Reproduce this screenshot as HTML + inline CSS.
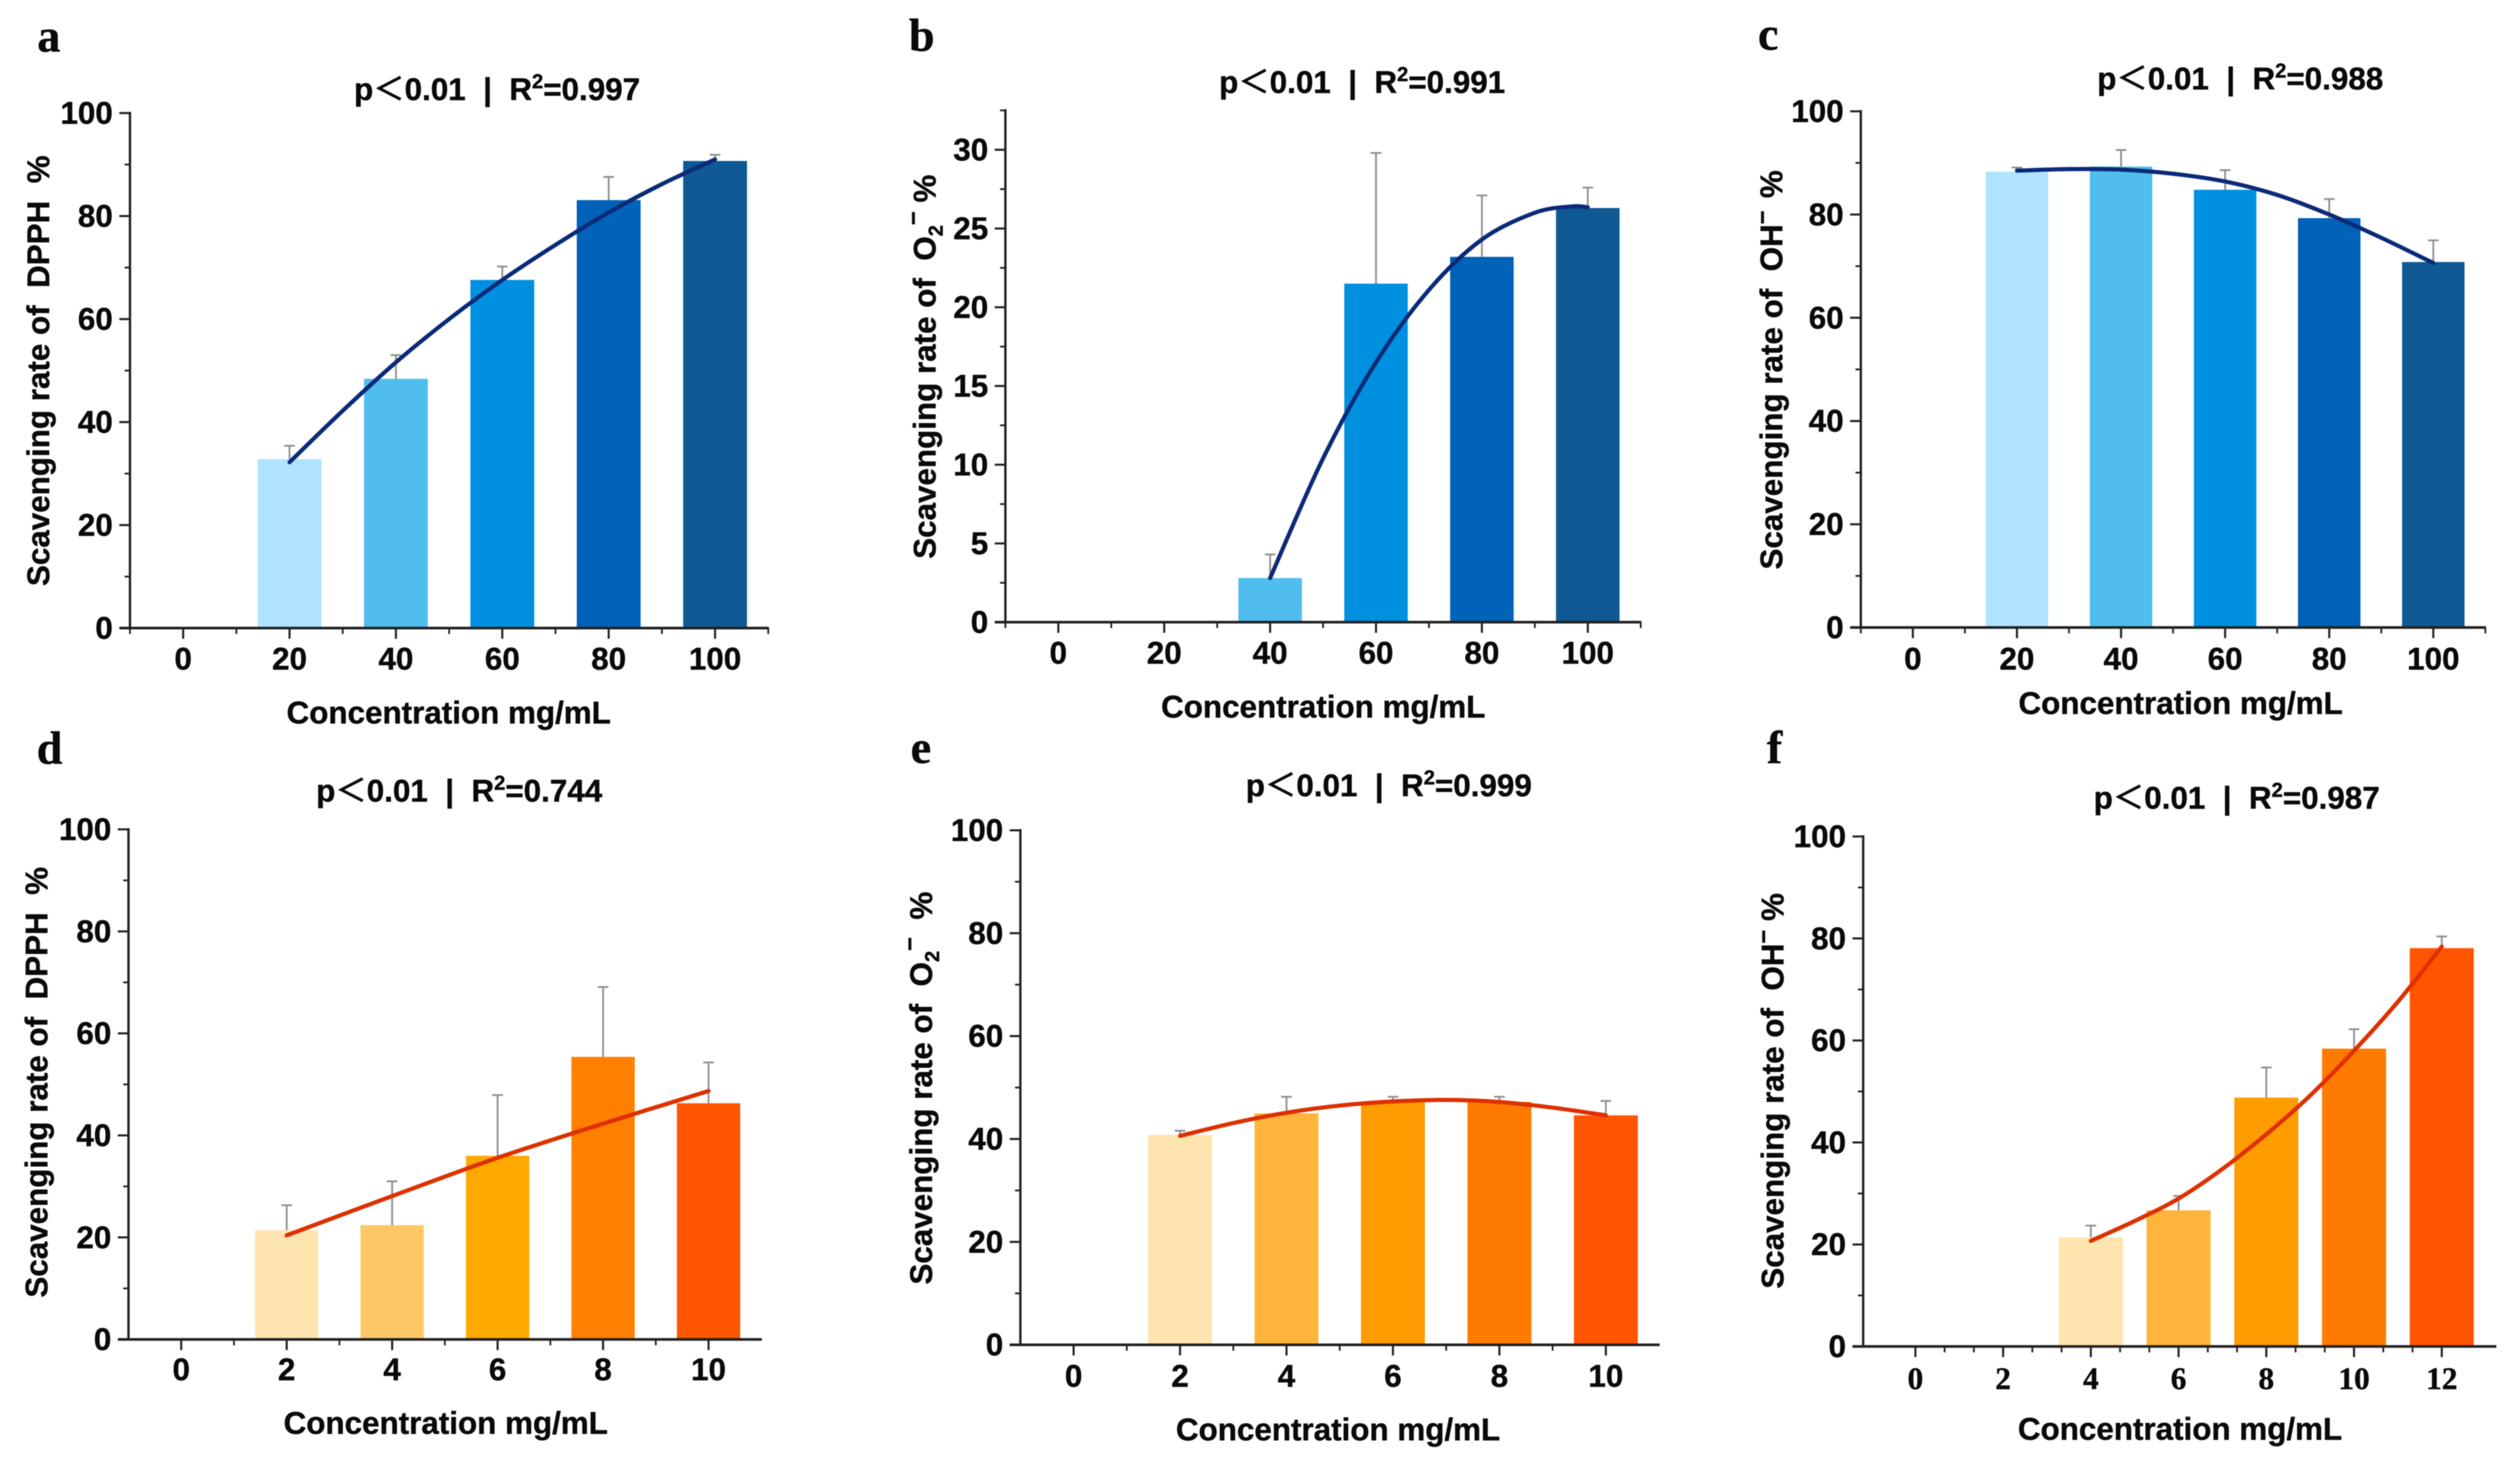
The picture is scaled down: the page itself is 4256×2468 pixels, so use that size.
<!DOCTYPE html>
<html lang="en">
<head>
<meta charset="utf-8">
<title>Scavenging rate panels</title>
<style>
html,body{margin:0;padding:0;background:#fff;}
svg{display:block;filter:blur(0.8px);}
text{font-family:"Liberation Sans","Noto Sans CJK SC",sans-serif;font-weight:700;fill:#0a0a0a;stroke:#0a0a0a;stroke-width:0.7px;white-space:pre;}
.letter{font-family:"Liberation Serif",serif;font-size:78px;}
.t{font-size:53px;}
.lt{font-family:"Noto Sans CJK SC","Liberation Sans",sans-serif;font-weight:500;}
</style>
</head>
<body>
<svg id="figure" xmlns="http://www.w3.org/2000/svg" width="4256" height="2468" viewBox="0 0 4256 2468">
<rect width="4256" height="2468" fill="#fff"/>

<text class="letter" x="63" y="87">a</text>
<text class="letter" x="1535" y="86">b</text>
<text class="letter" x="2969" y="84">c</text>
<text class="letter" x="62" y="1290">d</text>
<text class="letter" x="1538" y="1289">e</text>
<text class="letter" x="2984" y="1289">f</text>

<text class="t" x="598" y="169">p<tspan class="lt">＜</tspan>0.01  |  R<tspan font-size="34" dy="-20">2</tspan><tspan dy="20">=0.997</tspan></text>
<text class="t" x="2059" y="157">p<tspan class="lt">＜</tspan>0.01  |  R<tspan font-size="34" dy="-20">2</tspan><tspan dy="20">=0.991</tspan></text>
<text class="t" x="3542" y="151">p<tspan class="lt">＜</tspan>0.01  |  R<tspan font-size="34" dy="-20">2</tspan><tspan dy="20">=0.988</tspan></text>
<text class="t" x="534" y="1354">p<tspan class="lt">＜</tspan>0.01  |  R<tspan font-size="34" dy="-20">2</tspan><tspan dy="20">=0.744</tspan></text>
<text class="t" x="2104" y="1345">p<tspan class="lt">＜</tspan>0.01  |  R<tspan font-size="34" dy="-20">2</tspan><tspan dy="20">=0.999</tspan></text>
<text class="t" x="3536" y="1366">p<tspan class="lt">＜</tspan>0.01  |  R<tspan font-size="34" dy="-20">2</tspan><tspan dy="20">=0.987</tspan></text>

<text class="t" transform="translate(83,990) rotate(-90)">Scavenging rate of  DPPH  %</text>
<text class="t" transform="translate(1580,944) rotate(-90)">Scavenging rate of  O<tspan font-size="34" dy="12">2</tspan><tspan font-size="40" dy="-36">−</tspan><tspan dy="24"> %</tspan></text>
<text class="t" transform="translate(3010,962) rotate(-90)">Scavenging rate of  OH<tspan font-size="40" dy="-20">−</tspan><tspan dy="20" dx="6"> %</tspan></text>
<text class="t" transform="translate(80,2192) rotate(-90)">Scavenging rate of  DPPH  %</text>
<text class="t" transform="translate(1574,2170) rotate(-90)">Scavenging rate of  O<tspan font-size="34" dy="12">2</tspan><tspan font-size="40" dy="-36">−</tspan><tspan dy="24">  %</tspan></text>
<text class="t" transform="translate(3012,2177) rotate(-90)">Scavenging rate of  OH<tspan font-size="40" dy="-20">−</tspan><tspan dy="20"> %</tspan></text>

<text class="t" x="484" y="1222">Concentration mg/mL</text>
<text class="t" x="1961" y="1212">Concentration mg/mL</text>
<text class="t" x="3409" y="1206">Concentration mg/mL</text>
<text class="t" x="479" y="2422">Concentration mg/mL</text>
<text class="t" x="1986" y="2433">Concentration mg/mL</text>
<text class="t" x="3408" y="2432">Concentration mg/mL</text>
</svg>

<script>
// Panel a
var aCategories = [20, 40, 60, 80, 100];
var aValues = [32.8, 48.4, 67.6, 83.1, 90.7];
var aErrors = [2.6, 4.6, 2.6, 4.5, 1.2];
var aFitX = [20, 30, 40, 50, 60, 70, 80, 90, 100];
var aFitY = [32.2, 42.2, 51.6, 60, 67.6, 74.4, 80.7, 86.2, 91];
var aXTicks = [0, 20, 40, 60, 80, 100];
var aYTicks = [0, 20, 40, 60, 80, 100];

// Panel b
var bCategories = [40, 60, 80, 100];
var bValues = [2.8, 21.5, 23.2, 26.3];
var bErrors = [1.5, 8.3, 3.9, 1.3];
var bFitX = [40, 50, 60, 70, 80, 90, 97, 100];
var bFitY = [2.8, 10.4, 16.5, 21.1, 24.3, 26, 26.4, 26.35];
var bXTicks = [0, 20, 40, 60, 80, 100];
var bYTicks = [0, 5, 10, 15, 20, 25, 30];

// Panel c
var cCategories = [20, 40, 60, 80, 100];
var cValues = [88.3, 89.3, 84.8, 79.3, 70.8];
var cErrors = [0.8, 3.2, 3.8, 3.7, 4.2];
var cFitX = [20, 30, 40, 50, 60, 70, 80, 90, 100];
var cFitY = [88.5, 88.8, 88.7, 87.9, 86.4, 83.8, 80, 75.5, 70.6];
var cXTicks = [0, 20, 40, 60, 80, 100];
var cYTicks = [0, 20, 40, 60, 80, 100];

// Panel d
var dCategories = [2, 4, 6, 8, 10];
var dValues = [21.4, 22.4, 36, 55.4, 46.3];
var dErrors = [4.9, 8.6, 11.9, 13.7, 8];
var dFitX = [2, 4, 6, 8, 10];
var dFitY = [20.4, 28.1, 35.6, 42.3, 48.7];
var dXTicks = [0, 2, 4, 6, 8, 10];
var dYTicks = [0, 20, 40, 60, 80, 100];

// Panel e
var eCategories = [2, 4, 6, 8, 10];
var eValues = [40.8, 45, 47.2, 47.2, 44.6];
var eErrors = [0.8, 3.2, 1, 1, 2.8];
var eFitX = [2, 3, 4, 5, 6, 7, 8, 9, 10];
var eFitY = [40.6, 43.1, 45.1, 46.5, 47.3, 47.6, 47.2, 46.1, 44.6];
var eXTicks = [0, 2, 4, 6, 8, 10];
var eYTicks = [0, 20, 40, 60, 80, 100];

// Panel f
var fCategories = [4, 6, 8, 10, 12];
var fValues = [21.4, 26.7, 48.8, 58.4, 78.1];
var fErrors = [2.3, 2.8, 5.9, 3.8, 2.3];
var fFitX = [4, 5, 6, 7, 8, 9, 10, 11, 12];
var fFitY = [20.7, 24.6, 29, 34.8, 41.6, 49.2, 58, 67.6, 78.4];
var fXTicks = [0, 2, 4, 6, 8, 10, 12];
var fYTicks = [0, 20, 40, 60, 80, 100];

var bluePalette = ['#B0E3FF', '#4FBEEE', '#0090E0', '#0062B8', '#0F5A94'];
var blueFourPalette = ['#4FBEEE', '#0090E0', '#0062B8', '#0F5A94'];
var orangePaletteD = ['#FEE4AE', '#FEC764', '#FFA800', '#FF7F00', '#FF5500'];
var orangePalette = ['#FEE4AE', '#FFB53C', '#FF9C00', '#FF7B00', '#FF5500'];

var SVGNS = 'http://www.w3.org/2000/svg';
var root = document.getElementById('figure');

function make(tag, parent, attrs) {
  var el = document.createElementNS(SVGNS, tag);
  for (var k in attrs) { el.setAttribute(k, attrs[k]); }
  parent.appendChild(el);
  return el;
}

function smoothPath(pts) {
  var d = 'M' + pts[0][0] + ' ' + pts[0][1];
  for (var i = 0; i < pts.length - 1; i++) {
    var p0 = pts[Math.max(i - 1, 0)], p1 = pts[i], p2 = pts[i + 1], p3 = pts[Math.min(i + 2, pts.length - 1)];
    d += ' C' + (p1[0] + (p2[0] - p0[0]) / 6) + ' ' + (p1[1] + (p2[1] - p0[1]) / 6) + ' ' +
      (p2[0] - (p3[0] - p1[0]) / 6) + ' ' + (p2[1] - (p3[1] - p1[1]) / 6) + ' ' + p2[0] + ' ' + p2[1];
  }
  return d;
}

function drawPanel(o) {
  var sx = function (v) { return o.left + (v - o.xMin) / (o.xMax - o.xMin) * (o.right - o.left); };
  var sy = function (v) { return o.base - (v - 0) / o.yMax * (o.base - o.top); };
  var g = make('g', root, {});
  
  
  var axisColor = '#222';

  // bars
  o.categories.forEach(function (c, i) {
    var x = sx(c - o.barUnits / 2), w = sx(c + o.barUnits / 2) - x;
    var bar = make('rect', g, { x: x, y: sy(o.values[i]), width: w, height: o.base - sy(o.values[i]), fill: o.colors[i] });
    
    
  });

  // error bars
  o.categories.forEach(function (c, i) {
    var xc = sx(c), yTop = sy(o.values[i] + o.errors[i]), yBar = sy(o.values[i]);
    var eb = make('path', g, {
      d: 'M' + xc + ' ' + yBar + ' V' + yTop + ' M' + (xc - 9) + ' ' + yTop + ' H' + (xc + 9),
      stroke: '#8f8f8f', 'stroke-width': 3, fill: 'none'
    });
    
    
  });

  // fit curve
  var pts = o.fitX.map(function (x, i) { return [sx(x), sy(o.fitY[i])]; });
  var fit = make('path', g, { d: smoothPath(pts), fill: 'none', stroke: o.fitColor, 'stroke-width': 7, 'stroke-linecap': 'round' });
  
  

  // axes
  var yAxis = make('line', g, { x1: o.left, y1: o.top - 2, x2: o.left, y2: o.base + 2, stroke: axisColor, 'stroke-width': 4 });
  
  
  var xAxis = make('line', g, { x1: o.left - 18, y1: o.base, x2: o.right + 1, y2: o.base, stroke: axisColor, 'stroke-width': 4.5 });
  
  

  // y ticks
  o.yTicks.forEach(function (v, i) {
    var y = sy(v);
    var tick = make('line', g, { x1: o.left - 18, y1: y, x2: o.left, y2: y, stroke: axisColor, 'stroke-width': 3.5 });
    
    
    var label = make('text', g, { x: o.left - 29, y: y + 18, 'font-size': 53, 'text-anchor': 'end' });
    label.textContent = String(v);
    
    
    var mv = v + (o.yTicks[1] - o.yTicks[0]) / 2;
    if (i < o.yTicks.length - 1 || mv <= o.yMax) {
      var minor = make('line', g, { x1: o.left - 9, y1: sy(mv), x2: o.left, y2: sy(mv), stroke: axisColor, 'stroke-width': 3 });
      
      
    }
  });

  // x ticks
  o.xTicks.forEach(function (v, i) {
    var x = sx(v);
    var tick = make('line', g, { x1: x, y1: o.base, x2: x, y2: o.base + 18, stroke: axisColor, 'stroke-width': 3.5 });
    
    
    var label = make('text', g, { x: x, y: o.base + o.labelGap, 'font-size': 53, 'text-anchor': 'middle' });
    label.textContent = String(v);
    if (o.serifX) { label.setAttribute('style', 'font-family:"Liberation Serif",serif;'); }
    
    
    if (i < o.xTicks.length - 1) {
      var step = o.xTicks[1] - o.xTicks[0];
      for (var m = 1; m <= o.xMinorCount; m++) {
        var mx = sx(v + step * m / (o.xMinorCount + 1));
        var minor = make('line', g, { x1: mx, y1: o.base, x2: mx, y2: o.base + 10, stroke: axisColor, 'stroke-width': 3 });
        
        
      }
    }
  });
  if (o.endTicks) {
    [o.left, o.right].forEach(function (x) {
      var end = make('line', g, { x1: x, y1: o.base, x2: x, y2: o.base + 10, stroke: axisColor, 'stroke-width': 3 });
      
      
    });
  }
}

drawPanel({ id: 'a', categories: aCategories, values: aValues, errors: aErrors, fitX: aFitX, fitY: aFitY, xTicks: aXTicks, yTicks: aYTicks,
  colors: bluePalette, fitColor: '#0B2A78', left: 219.5, right: 1297.5, top: 191, base: 1061, xMin: -10, xMax: 110, yMax: 100, barUnits: 12, xMinorCount: 1, endTicks: true, labelGap: 70 });
drawPanel({ id: 'b', categories: bCategories, values: bValues, errors: bErrors, fitX: bFitX, fitY: bFitY, xTicks: bXTicks, yTicks: bYTicks,
  colors: blueFourPalette, fitColor: '#0B2A78', left: 1698, right: 2771, top: 186.5, base: 1051, xMin: -10, xMax: 110, yMax: 32.5, barUnits: 12, xMinorCount: 1, endTicks: true, labelGap: 70 });
drawPanel({ id: 'c', categories: cCategories, values: cValues, errors: cErrors, fitX: cFitX, fitY: cFitY, xTicks: cXTicks, yTicks: cYTicks,
  colors: bluePalette, fitColor: '#0B2A78', left: 3142.7, right: 4197.5, top: 188, base: 1060, xMin: -10, xMax: 110, yMax: 100, barUnits: 12, xMinorCount: 1, endTicks: true, labelGap: 71 });
drawPanel({ id: 'd', categories: dCategories, values: dValues, errors: dErrors, fitX: dFitX, fitY: dFitY, xTicks: dXTicks, yTicks: dYTicks,
  colors: orangePaletteD, fitColor: '#DE3000', left: 217, right: 1285.7, top: 1401, base: 2262.6, xMin: -1, xMax: 11, yMax: 100, barUnits: 1.2, xMinorCount: 1, endTicks: false, labelGap: 69 });
drawPanel({ id: 'e', categories: eCategories, values: eValues, errors: eErrors, fitX: eFitX, fitY: eFitY, xTicks: eXTicks, yTicks: eYTicks,
  colors: orangePalette, fitColor: '#DE3000', left: 1723.3, right: 2802, top: 1402.6, base: 2271.7, xMin: -1, xMax: 11, yMax: 100, barUnits: 1.2, xMinorCount: 1, endTicks: false, labelGap: 71 });
drawPanel({ id: 'f', categories: fCategories, values: fValues, errors: fErrors, fitX: fFitX, fitY: fFitY, xTicks: fXTicks, yTicks: fYTicks,
  colors: orangePalette, fitColor: '#DE3000', left: 3146.7, right: 4215, top: 1413, base: 2274.5, xMin: -1.19, xMax: 13.23, yMax: 100, barUnits: 1.46, xMinorCount: 2, endTicks: false, labelGap: 72, serifX: true });
</script>
</body>
</html>
